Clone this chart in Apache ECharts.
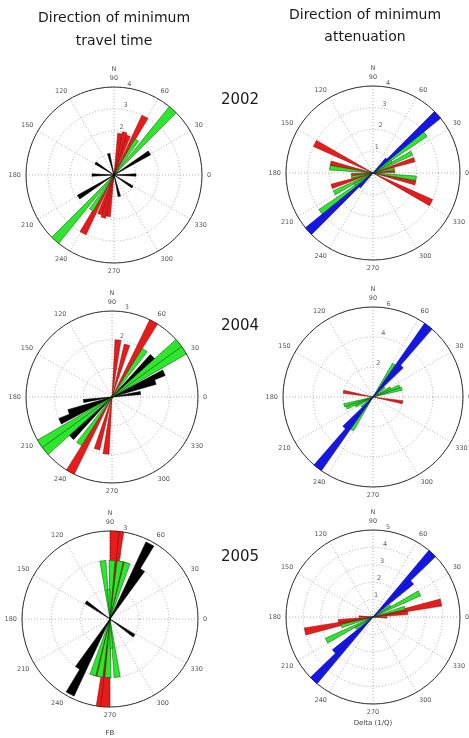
<!DOCTYPE html>
<html>
<head>
<meta charset="utf-8">
<script src="https://cdn.jsdelivr.net/npm/echarts/dist/echarts.min.js"></script>
<style>
  html, body { margin: 0; padding: 0; background: #fff; }
  #chart { width: 469px; height: 738px; }
</style>
</head>
<body>
<div id="chart"></div>
<script>
// Rose histograms of fast / low-attenuation directions.
// Each bin: [bin centre angle in degrees (counter-clockwise from east), count].
// Bins are axial, so every bin is drawn at its angle and at angle + 180.

// 2002 — minimum travel time
const tt2002Red   = [[62, 3.0], [70, 1.9], [76, 2.0], [82, 1.9]];
const tt2002Green = [[48, 4.0], [57, 1.9]];
const tt2002Black = [[32, 1.9], [0, 1.0], [104, 1.0], [147, 1.0]];

// 2002 — minimum attenuation
const at2002Red   = [[153, 3.0], [18, 2.0], [167, 2.0], [4, 1.0]];
const at2002Green = [[37, 3.0], [27, 2.0], [173, 2.0], [11, 1.0], [32, 1.0]];
const at2002Blue  = [[42, 4.0], [47, 0.9]];

// 2004 — minimum travel time
const tt2004Red   = [[61, 3.0], [74, 1.9], [84, 2.0]];
const tt2004Black = [[45, 2.0], [25, 2.0], [19, 1.6], [8, 1.0]];
const tt2004Green = [[33, 3.0], [39, 3.0], [55, 2.0]];

// 2004 — minimum attenuation
const at2004Red   = [[170, 2.0]];
const at2004Green = [[57, 2.6], [16, 2.0], [22, 1.9], [28, 1.3], [40, 1.0]];
const at2004Blue  = [[52, 6.0], [47, 2.8]];

// 2005 — minimum travel time
const tt2005Red   = [[84, 3.0], [87, 3.0], [77, 2.0]];
const tt2005Green = [[97, 2.0], [80, 2.0], [88, 2.0], [73, 2.0], [93, 1.0]];
const tt2005Black = [[62, 2.9], [57, 2.0], [145, 1.0]];

// 2005 — minimum attenuation
const at2005Red   = [[12, 4.0], [7, 2.0], [178, 0.8]];
const at2005Green = [[27, 3.0], [16, 1.9], [33, 1.2]];
const at2005Blue  = [[47, 5.0], [42, 3.0]];

// Radial tick labels per rose
const tt2002Rings = [2, 3, 4];
const at2002Rings = [1, 2, 3, 4];
const tt2004Rings = [2, 3];
const at2004Rings = [2, 4, 6];
const tt2005Rings = [2, 3];
const at2005Rings = [1, 2, 3, 4, 5];

const years = ['2002', '2004', '2005'];
const colTitles = [['Direction of minimum', 'travel time'], ['Direction of minimum', 'attenuation']];

// ---- styling ----
const FILL = { red: '#e61c1c', green: '#2ee62e', black: '#000000', blue: '#1616e2' };
const EDGE = { red: 'rgba(110,0,0,0.75)', green: 'rgba(0,70,0,0.8)', black: '#000000', blue: '#0b0b99' };
const BIN_WIDTH = 6; // degrees
const FONT = '"DejaVu Sans", sans-serif';

const panels = [
  { center: [114, 175], radius: 88, max: 4, step: 1, rings: tt2002Rings,
    layers: [['red', tt2002Red], ['green', tt2002Green], ['black', tt2002Black]] },
  { center: [373, 173], radius: 87, max: 4, step: 1, rings: at2002Rings,
    layers: [['red', at2002Red], ['green', at2002Green], ['blue', at2002Blue]] },
  { center: [112, 397], radius: 86, max: 3, step: 1, rings: tt2004Rings,
    layers: [['red', tt2004Red], ['black', tt2004Black], ['green', tt2004Green]] },
  { center: [373, 397], radius: 90, max: 6, step: 2, rings: at2004Rings,
    layers: [['red', at2004Red], ['green', at2004Green], ['blue', at2004Blue]] },
  { center: [110, 619], radius: 88, max: 3, step: 1, rings: tt2005Rings,
    layers: [['red', tt2005Red], ['green', tt2005Green], ['black', tt2005Black]] },
  { center: [373, 617], radius: 87, max: 5, step: 1, rings: at2005Rings,
    layers: [['red', at2005Red], ['green', at2005Green], ['blue', at2005Blue]] }
];

function wedgeRenderer(color) {
  return function (params, api) {
    const r = api.value(0);
    const a = api.value(1);
    const o = api.coord([0, a]);
    const p1 = api.coord([r, a - BIN_WIDTH / 2]);
    const p2 = api.coord([r, a + BIN_WIDTH / 2]);
    return {
      type: 'polygon',
      shape: { points: [o, p1, p2] },
      style: { fill: FILL[color], stroke: EDGE[color], lineWidth: 0.6 }
    };
  };
}

const polar = [], angleAxis = [], radiusAxis = [], series = [];

panels.forEach((p, i) => {
  polar.push({ center: p.center, radius: p.radius });
  angleAxis.push({
    polarIndex: i, type: 'value', min: 0, max: 360, interval: 30,
    startAngle: 0, clockwise: false,
    axisLine: { lineStyle: { color: '#333', width: 1 } },
    axisTick: { show: false },
    axisLabel: {
      margin: 5, color: '#555', fontSize: 6.5, fontFamily: FONT,
      formatter: v => (v === 360 ? '' : (v === 90 ? '{n|N}\n90' : String(v))),
      rich: { n: { fontSize: 6.5, color: '#555', lineHeight: 11, fontFamily: FONT } }
    },
    splitLine: { lineStyle: { color: '#999', width: 0.8, type: [1, 2] } }
  });
  radiusAxis.push({
    polarIndex: i, type: 'value', min: 0, max: p.max, interval: p.step,
    axisLine: { show: false }, axisTick: { show: false }, axisLabel: { show: false },
    splitLine: { lineStyle: { color: '#999', width: 0.8, type: [1, 2] } }
  });
  p.layers.forEach(([color, bins]) => {
    series.push({
      type: 'custom', coordinateSystem: 'polar', polarIndex: i,
      renderItem: wedgeRenderer(color),
      data: bins.flatMap(([ang, cnt]) => [[cnt, ang], [cnt, ang + 180]]),
      silent: true, z: 2
    });
  });
  series.push({
    type: 'scatter', coordinateSystem: 'polar', polarIndex: i,
    symbolSize: 0, silent: true, z: 5,
    data: p.rings.map(r => [r, 80]),
    label: {
      show: true, position: 'top', distance: 1,
      formatter: q => String(q.value[0]),
      fontSize: 6.5, color: '#333', fontFamily: FONT
    }
  });
});

function txt(x, y, text, size, fill) {
  return {
    type: 'text', x, y, silent: true,
    style: { text, font: size + 'px ' + FONT, fill: fill || '#1a1a1a',
             align: 'center', verticalAlign: 'middle',
             textAlign: 'center', textVerticalAlign: 'middle' }
  };
}

const graphic = [
  txt(114, 18, colTitles[0][0], 14), txt(114, 41, colTitles[0][1], 14),
  txt(365, 15, colTitles[1][0], 14), txt(365, 37, colTitles[1][1], 14),
  txt(240, 100, years[0], 15), txt(240, 326, years[1], 15), txt(240, 557, years[2], 15),
  txt(110, 733, 'FB', 7, '#444'), txt(373, 723, 'Delta (1/Q)', 7, '#444')
];

const chart = echarts.init(document.getElementById('chart'), null, { renderer: 'canvas' });
chart.setOption({
  animation: false,
  backgroundColor: '#ffffff',
  polar, angleAxis, radiusAxis, series, graphic
});
</script>
</body>
</html>
